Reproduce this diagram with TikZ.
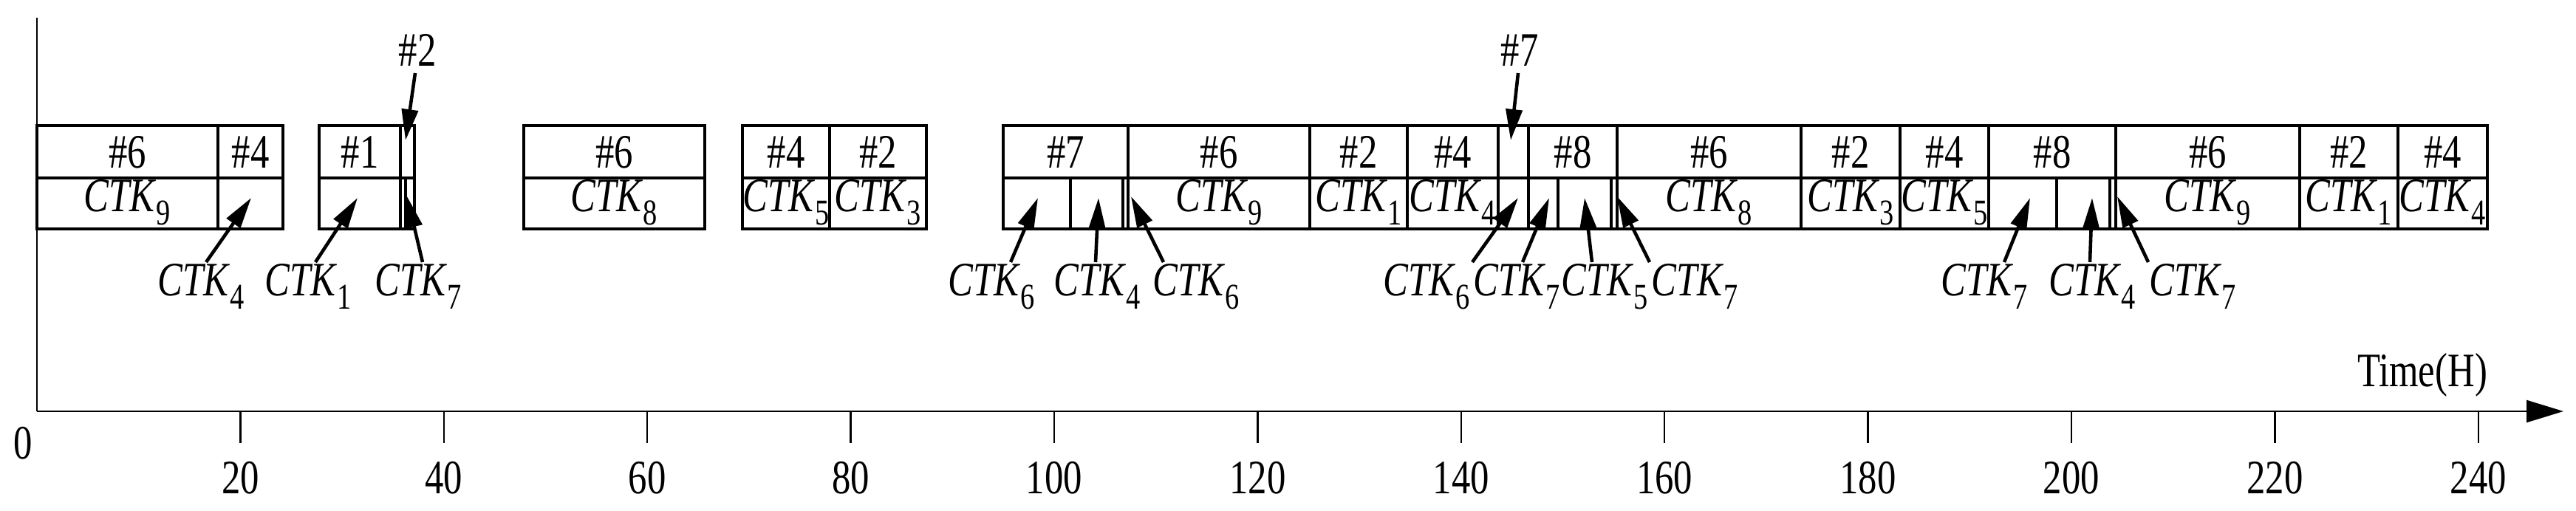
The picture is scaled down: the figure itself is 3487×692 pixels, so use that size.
\documentclass[tikz,border=0pt]{standalone}
\usepackage{fontspec}
\setmainfont[FakeStretch=0.78]{Liberation Serif}
\usetikzlibrary{arrows.meta}
\newcommand{\ctk}[1]{\textit{CTK}\raisebox{-0.28em}{\fontsize{14}{14}\selectfont #1}}
\tikzset{
  lbl/.style={font=\fontsize{18.5}{20}\selectfont, inner sep=0pt},
  box/.style={line width=1.3pt},
  ptr/.style={line width=1.3pt, -{Triangle[length=0.42cm,width=0.22cm]}},
  ax/.style={line width=0.7pt}
}
\begin{document}
\begin{tikzpicture}[x=0.01cm,y=-0.01cm]
\useasboundingbox (0,0) rectangle (3487,692);
% axes
\draw[ax] (50,24) -- (50,557);
\draw[ax,-{Triangle[length=0.5cm,width=0.3cm]}] (50,557) -- (3470,557);
\foreach \v in {20,40,...,240}{
  \draw[ax] ({50+13.77*\v},557) -- ({50+13.77*\v},600);
  \node[lbl] (t\v) at ({50+13.77*\v},647) {\v};
}
\node[lbl] (t0) at (31,600) {0};
\node[lbl] (time) at (3279,508) {Time(H)};
% groups: outer rectangles + middle line
\foreach \a/\b in {50/383,432/561,709/954,1005/1254,1358/3367}{
  \draw[box] (\a,170) rectangle (\b,310);
  \draw[box] (\a,241) -- (\b,241);
}
% top dividers
\foreach \x in {295,542,1123,1527,1773,1905,2028,2069,2189,2438,2572,2692,2864,3113,3246}
  \draw[box] (\x,170) -- (\x,241);
% bottom dividers
\foreach \x in {295,542,549,1123,1449,1520,1527,1773,1905,2028,2069,2109,2181,2189,2438,2572,2692,2784,2856,2864,3113,3246}
  \draw[box] (\x,241) -- (\x,310);
% top texts
\foreach \a/\b/\t in {50/295/6,295/383/4,432/542/1,709/954/6,1005/1123/4,1123/1254/2,1358/1527/7,1527/1773/6,1773/1905/2,1905/2028/4,2069/2189/8,2189/2438/6,2438/2572/2,2572/2692/4,2692/2864/8,2864/3113/6,3113/3246/2,3246/3367/4}
  \node[lbl] at ({(\a+\b)/2},206) {\#\t};
% bottom texts
\foreach \a/\b/\t in {50/295/9,709/954/8,1005/1123/5,1123/1254/3,1527/1773/9,1773/1905/1,1905/2028/4,2189/2438/8,2438/2572/3,2572/2692/5,2864/3113/9,3113/3246/1,3246/3367/4}
  \node[lbl] at ({(\a+\b)/2},274) {\ctk{\t}};
% top labels with arrows
\node[lbl] (h2) at (565,68) {\#2};
\coordinate (h2t) at (549,190);
\draw[ptr] (562,99) -- (h2t);
\node[lbl] (h7) at (2057,68) {\#7};
\coordinate (h7t) at (2045,190);
\draw[ptr] (2055,99) -- (h7t);
% bottom labels with arrows
\foreach \n/\lx/\i/\sx/\tx/\ty in {
 a/272/4/279/340/268, b/417/1/427/484/268, c/566/7/572/551/266,
 d/1342/6/1368/1405/268, e/1485/4/1483/1487/268, f/1619/6/1575/1531/266,
 g/1931/6/1993/2055/268, h/2053/7/2061/2097/268, i/2172/5/2155/2145/268, j/2294/7/2233/2189/266,
 k/2686/7/2713/2748/268, l/2832/4/2829/2832/268, m/2968/7/2908/2866/266}{
  \node[lbl] (L\n) at (\lx,388) {\ctk{\i}};
  \coordinate (T\n) at (\tx,\ty);
  \draw[ptr] (\sx,355) -- (T\n);
}
\end{tikzpicture}
\end{document}
